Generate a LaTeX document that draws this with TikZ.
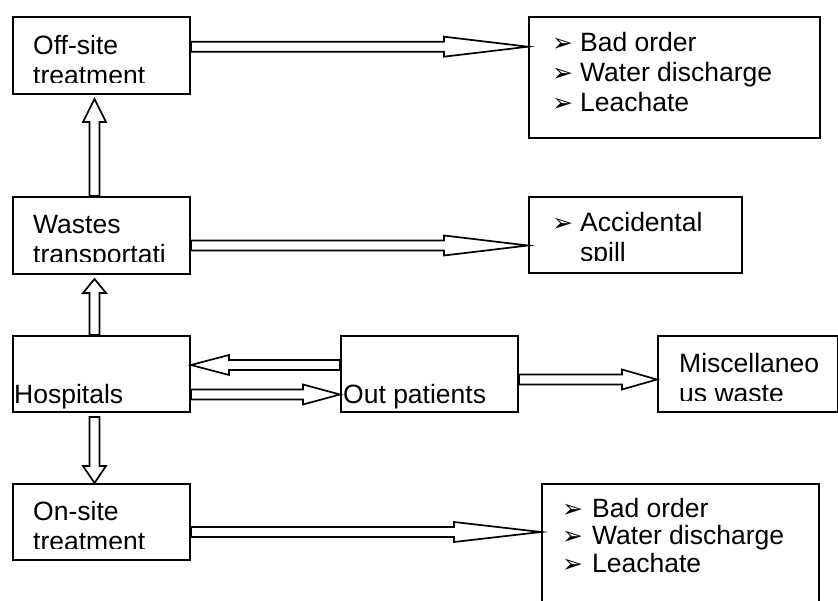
\documentclass[tikz,border=0pt]{standalone}
\usepackage{fontspec}
\setmainfont[Ligatures=NoCommon]{Liberation Sans}
\newfontfamily\dingfont{DejaVu Sans}
\usetikzlibrary{calc}

% bullet used in the lists of effects
\newcommand\bul[1]{\makebox[#1][l]{\dingfont\fontsize{25}{25}\selectfont ➢}}
% lines stacked from the first baseline down
\newcommand\twoln[2]{\vtop{\hbox{#1}\hbox{#2}}}
\newcommand\threeln[3]{\vtop{\hbox{#1}\hbox{#2}\hbox{#3}}}

% hollow block arrow, horizontal: tail node, tip node, y, signed head length
\newcommand\harrow[4]{%
  \draw[blockarrow] let \p1=(#1), \p2=(#2), \p3=(0,#3) in
    (\x1,{\y3+5pt}) -- ({\x2-(#4pt)},{\y3+5pt}) -- ({\x2-(#4pt)},{\y3+10pt})
    -- (\x2,\y3) -- ({\x2-(#4pt)},{\y3-10pt}) -- ({\x2-(#4pt)},{\y3-5pt})
    -- (\x1,{\y3-5pt}) -- cycle;}

% hollow block arrow, vertical: tail point, tip point, x, signed head length (up > 0)
\newcommand\varrow[4]{%
  \draw[blockarrow] let \p1=(#1), \p2=(#2), \p3=(#3,0) in
    ({\x3-5pt},\y1) -- ({\x3-5pt},{\y2-(#4pt)}) -- ({\x3-11.5pt},{\y2-(#4pt)})
    -- (\x3,\y2) -- ({\x3+11.5pt},{\y2-(#4pt)}) -- ({\x3+5pt},{\y2-(#4pt)})
    -- ({\x3+5pt},\y1) -- cycle;}

\begin{document}
\begin{tikzpicture}[x=1pt,y=-1pt,
  box/.style={draw, line width=2pt, inner sep=0pt, anchor=north west},
  txt/.style={inner sep=0pt, anchor=base west,
    font=\fontsize{26.5}{30}\selectfont},
  blockarrow/.style={draw, fill=white, line width=1.7pt, line join=miter}]

\useasboundingbox (0,0) rectangle (838,601);
\clip (0,0) rectangle (838,601);

% boxes
\node[box, minimum width=177pt, minimum height=77pt]  (off)    at (12,16)  {};
\node[box, minimum width=291pt, minimum height=121pt] (res1)   at (528,16) {};
\node[box, minimum width=177pt, minimum height=77pt]  (wastes) at (12,196) {};
\node[box, minimum width=213pt, minimum height=76pt]  (acc)    at (528,196) {};
\node[box, minimum width=177pt, minimum height=76pt]  (hosp)   at (12,335) {};
\node[box, minimum width=177pt, minimum height=76pt]  (out)    at (340,335) {};
\node[box, minimum width=180pt, minimum height=76pt]  (misc)   at (657,335) {};
\node[box, minimum width=177pt, minimum height=76pt]  (onsite) at (12,483) {};
\node[box, minimum width=277pt, minimum height=140pt] (res2)   at (541,483) {};

% labels (text boxes clip their last line)
\begin{scope}
  \clip (12,16) rectangle (189,83);
  \node[txt] (offT) at (33,55) {\twoln{Off-site}{treatment}};
\end{scope}
\begin{scope}
  \clip (12,196) rectangle (189,262);
  \node[txt] (wastesT) at (33,234) {\twoln{Wastes}{transportati}};
\end{scope}
\node[txt] (hospT) at (14,403) {Hospitals};
\node[txt] (outT) at (343,403) {Out patients};
\begin{scope}
  \clip (657,335) rectangle (837,401);
  \node[txt] (miscT) at (679,373) {\twoln{Miscellaneo}{us waste}};
\end{scope}
\begin{scope}
  \clip (12,483) rectangle (189,548);
  \node[txt] (onsiteT) at (33,520) {\twoln{On-site}{treatment}};
\end{scope}

\node[txt] (res1T) at (552,52)
  {\threeln{\bul{28pt}Bad order}{\bul{28pt}Water discharge}{\bul{28pt}Leachate}};
\begin{scope}
  \clip (528,196) rectangle (741,261);
  \node[txt] (accT) at (552,232) {\twoln{\bul{28pt}Accidental}{\hspace*{28pt}spill}};
\end{scope}
\node[txt, font=\fontsize{26.5}{27.5}\selectfont] (res2T) at (562,517)
  {\threeln{\bul{30pt}Bad order}{\bul{30pt}Water discharge}{\bul{30pt}Leachate}};

% flows
\harrow{off.east}{res1.west}{46.7}{84}
\harrow{wastes.east}{acc.west}{245.5}{84}
\harrow{out.west}{hosp.east}{365}{-38}
\harrow{hosp.east}{out.west}{394.5}{37}
\harrow{out.east}{misc.west}{379.5}{35}
\harrow{onsite.east}{res2.west}{532}{87}

\varrow{wastes.north}{$(off.south)+(0,4)$}{94.5}{23}
\varrow{hosp.north}{$(wastes.south)+(0,4)$}{94.5}{14}
\varrow{$(hosp.south)+(0,4)$}{onsite.north}{94.5}{-17}

\end{tikzpicture}
\end{document}
